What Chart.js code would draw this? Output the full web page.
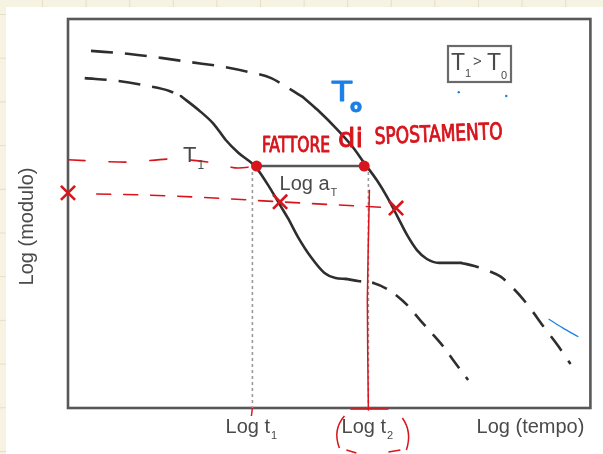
<!DOCTYPE html>
<html>
<head>
<meta charset="utf-8">
<script src="https://cdn.jsdelivr.net/npm/chart.js@4.4.1/dist/chart.umd.min.js"></script>
<style>
  html, body { margin: 0; padding: 0; background: #fff; }
  canvas { display: block; }
</style>
</head>
<body>
<canvas id="chart" width="603" height="454"></canvas>
<script>
// Marked times on the log-time axis and their subscripts
const timeTicks = [3.53, 5.75];
const timeTickSubs = ['1', '2'];
const xAxisTitle = 'Log (tempo)';
const yAxisTitle = 'Log (modulo)';

// Modulus curve at T0: glassy plateau, transition, rubbery tail
const t0Glassy = [[0.44, 9.18], [1.18, 9.10], [1.78, 9.00], [2.35, 8.89], [2.98, 8.77], [3.45, 8.64], [3.89, 8.48], [4.21, 8.23], [4.50, 7.99]];
const t0Transition = [[4.50, 7.99], [4.78, 7.66], [5.16, 7.15], [5.45, 6.71], [5.67, 6.30], [5.92, 5.84], [6.11, 5.42], [6.30, 4.94], [6.49, 4.45], [6.68, 4.06], [6.87, 3.83], [7.10, 3.73], [7.53, 3.73]];
const t0Rubbery = [[7.53, 3.73], [7.78, 3.65], [8.06, 3.52], [8.29, 3.37], [8.52, 3.08], [8.71, 2.80], [8.90, 2.47], [9.11, 2.08], [9.37, 1.62], [9.62, 1.13]];

// Modulus curve at T1 (shifted to shorter times)
const t1Glassy = [[0.32, 8.48], [0.95, 8.41], [1.52, 8.28], [1.94, 8.15], [2.16, 8.02]];
const t1Transition = [[2.16, 8.02], [2.50, 7.66], [2.79, 7.30], [3.02, 6.89], [3.26, 6.56], [3.59, 6.20], [3.89, 5.60], [4.08, 5.17], [4.21, 4.88], [4.40, 4.40], [4.65, 3.88], [4.91, 3.47], [5.12, 3.34], [5.31, 3.32]];
const t1Rubbery = [[5.31, 3.32], [5.58, 3.26], [5.86, 3.21], [6.11, 3.06], [6.30, 2.88], [6.49, 2.65], [6.74, 2.26], [6.96, 1.93], [7.19, 1.57], [7.40, 1.18], [7.66, 0.72]];

// Shift factor: equal-modulus points on both curves
const shiftDots = [[3.61, 6.22], [5.67, 6.22]];
const levelUpper = [[0.00, 6.38], [1.18, 6.32], [1.94, 6.40], [2.79, 6.30], [3.26, 6.17], [3.61, 6.22]];
const levelLower = [[0.55, 5.50], [1.37, 5.48], [2.50, 5.42], [4.06, 5.30], [5.16, 5.22], [6.28, 5.14]];
const crossMarks = [[0.00, 5.53], [4.06, 5.30], [6.28, 5.14]];
const t2Marker = [[5.77, 5.60], [5.73, 2.78], [5.75, -0.05]];
const blueStroke = [[9.20, 2.29], [9.47, 2.06], [9.77, 1.83]];
const blueDots = [[7.48, 8.12], [8.39, 8.02]];

const INK = '#2e2e2e';
const RED = '#d8141c';
const BLUE = '#1b7fe6';
const GRAY_TEXT = '#4a4a4a';

const pts = arr => arr.map(([x, y]) => ({ x, y }));

function curve(arr, extra) {
  return Object.assign({
    data: pts(arr),
    showLine: true,
    pointRadius: 0,
    borderColor: INK,
    borderWidth: 2.6,
    cubicInterpolationMode: 'monotone',
    fill: false,
    borderCapStyle: 'round'
  }, extra);
}

const datasets = [
  // red hand annotations
  curve(crossMarks, { showLine: false, pointRadius: 10, pointStyle: 'crossRot', pointBorderColor: RED, pointBorderWidth: 2.6, clip: false }),
  curve(shiftDots, { showLine: false, pointRadius: 5.5, pointBackgroundColor: RED, pointBorderColor: RED, pointBorderWidth: 0 }),
  curve(levelUpper, { borderColor: RED, borderWidth: 1.6, borderDash: [17, 24], clip: false }),
  curve(levelLower, { borderColor: RED, borderWidth: 1.6, borderDash: [14, 13], clip: false }),
  curve(t2Marker, { borderColor: RED, borderWidth: 1.5, cubicInterpolationMode: 'default', tension: 0.2, clip: false }),
  // blue hand annotations
  curve(blueStroke, { borderColor: BLUE, borderWidth: 1.2, borderCapStyle: 'butt' }),
  curve(blueDots, { showLine: false, pointRadius: 1.2, pointBackgroundColor: BLUE, pointBorderWidth: 0 }),
  // shift segment and guide lines to the time axis
  curve(shiftDots, { borderColor: '#555', borderWidth: 2.4, cubicInterpolationMode: 'default', tension: 0 }),
  ...timeTicks.map((t, i) => curve([[t, shiftDots[i][1]], [t, 0]], {
    borderColor: '#9a9a9a', borderWidth: 1.6, borderDash: [3, 3], cubicInterpolationMode: 'default', tension: 0, borderCapStyle: 'butt'
  })),
  // modulus curves
  curve(t0Glassy, { borderDash: [22, 12], borderCapStyle: 'butt' }),
  curve(t0Transition, {}),
  curve(t0Rubbery, { borderDash: [18, 12], borderCapStyle: 'butt' }),
  curve(t1Glassy, { borderDash: [22, 12], borderCapStyle: 'butt' }),
  curve(t1Transition, {}),
  curve(t1Rubbery, { borderDash: [16, 11], borderCapStyle: 'butt' })
];

// Notebook paper behind the figure
const paperPlugin = {
  id: 'paper',
  beforeDraw(chart) {
    const { ctx, width, height } = chart;
    ctx.save();
    ctx.fillStyle = '#f6f3e3';
    ctx.fillRect(0, 0, width, height);
    ctx.strokeStyle = '#e3dfc8';
    ctx.lineWidth = 1;
    for (let x = 42.5; x < width; x += 43.6) {
      ctx.beginPath(); ctx.moveTo(x, 0); ctx.lineTo(x, height); ctx.stroke();
    }
    for (let y = 14.5; y < height; y += 43.7) {
      ctx.beginPath(); ctx.moveTo(0, y); ctx.lineTo(width, y); ctx.stroke();
    }
    ctx.fillStyle = '#ffffff';
    ctx.fillRect(6, 7, width - 6, height - 7);
    ctx.restore();
  },
  beforeDatasetsDraw(chart) {
    const { ctx, chartArea: a } = chart;
    ctx.save();
    ctx.strokeStyle = '#585858';
    ctx.lineWidth = 2.6;
    ctx.strokeRect(a.left, a.top, a.right - a.left, a.bottom - a.top);
    ctx.restore();
  }
};

function subText(ctx, main, sub, x, y, size, align, color) {
  ctx.font = size + 'px "Liberation Sans", Arial, sans-serif';
  const w1 = ctx.measureText(main).width;
  ctx.font = Math.round(size * 0.55) + 'px "Liberation Sans", Arial, sans-serif';
  const w2 = ctx.measureText(sub).width;
  const total = w1 + 1 + w2;
  let x0 = x;
  if (align === 'center') x0 = x - total / 2;
  if (align === 'right') x0 = x - total;
  ctx.fillStyle = color;
  ctx.textAlign = 'left';
  ctx.textBaseline = 'alphabetic';
  ctx.font = size + 'px "Liberation Sans", Arial, sans-serif';
  ctx.fillText(main, x0, y);
  ctx.font = Math.round(size * 0.55) + 'px "Liberation Sans", Arial, sans-serif';
  ctx.fillText(sub, x0 + w1 + 1, y + size * 0.3);
}

// Handwriting-like text: thin glyphs thickened with a light outline, squeezed to a width
function handText(ctx, text, x, y, width, font, color, angle) {
  ctx.save();
  ctx.font = font;
  const w = ctx.measureText(text).width;
  ctx.translate(x, y);
  if (angle) ctx.rotate(angle);
  ctx.scale(width / w, 1);
  ctx.fillStyle = color;
  ctx.strokeStyle = color;
  ctx.lineWidth = 0.9;
  ctx.lineJoin = 'round';
  ctx.textAlign = 'left';
  ctx.textBaseline = 'alphabetic';
  ctx.fillText(text, 0, 0);
  ctx.strokeText(text, 0, 0);
  ctx.restore();
}

// Axis titles, tick labels and annotations
const labelPlugin = {
  id: 'labels',
  afterDraw(chart) {
    const { ctx, chartArea: a } = chart;
    const xs = chart.scales.x, ys = chart.scales.y;
    ctx.save();

    // time tick labels
    timeTicks.forEach((t, i) => {
      subText(ctx, 'Log t', timeTickSubs[i], xs.getPixelForValue(t) - 1, a.bottom + 25, 20, 'center', GRAY_TEXT);
    });
    ctx.font = '20px "Liberation Sans", Arial, sans-serif';
    ctx.fillStyle = GRAY_TEXT;
    ctx.textAlign = 'right';
    ctx.fillText(xAxisTitle, a.right - 6, a.bottom + 25);

    // vertical axis title
    ctx.save();
    ctx.translate(a.left - 35, (a.top + a.bottom) / 2 + 13);
    ctx.rotate(-Math.PI / 2);
    ctx.textAlign = 'center';
    ctx.fillText(yAxisTitle, 0, 0);
    ctx.restore();

    // curve labels
    subText(ctx, 'T', '1', a.left + 115, a.top + 143, 22, 'left', GRAY_TEXT);
    const dx1 = xs.getPixelForValue(shiftDots[0][0]);
    const dx2 = xs.getPixelForValue(shiftDots[1][0]);
    const dy = ys.getPixelForValue(shiftDots[0][1]);
    subText(ctx, 'Log a', 'T', (dx1 + dx2) / 2 - 2, dy + 24, 20, 'center', GRAY_TEXT);

    // temperature relation box
    ctx.strokeStyle = '#6a6a6a';
    ctx.lineWidth = 2.2;
    ctx.strokeRect(448, 46, 63, 36);
    ctx.fillStyle = GRAY_TEXT;
    ctx.font = '23px "Liberation Sans", Arial, sans-serif';
    ctx.textAlign = 'left';
    ctx.fillText('T', 451, 70);
    ctx.font = '11px "Liberation Sans", Arial, sans-serif';
    ctx.fillText('1', 465, 77);
    ctx.font = '15px "Liberation Sans", Arial, sans-serif';
    ctx.fillText('>', 473, 66);
    ctx.font = '23px "Liberation Sans", Arial, sans-serif';
    ctx.fillText('T', 487, 70);
    ctx.font = '11px "Liberation Sans", Arial, sans-serif';
    ctx.fillText('0', 501, 79);

    // handwritten notes
    handText(ctx, 'T', 332, 101, 20, '26px "DejaVu Sans", sans-serif', BLUE, 0);
    handText(ctx, 'o', 350, 112, 12, 'bold 17px "DejaVu Sans", sans-serif', BLUE, 0);

    handText(ctx, 'FATTORE', 262, 152, 68, '21px "DejaVu Sans Condensed", "DejaVu Sans", sans-serif', RED, 0);
    handText(ctx, 'di', 338, 147, 25, '26px "DejaVu Sans", sans-serif', RED, 0);
    handText(ctx, 'SPOSTAMENTO', 375, 144, 128, '23px "DejaVu Sans Condensed", "DejaVu Sans", sans-serif', RED, -0.04);

    // brackets around the second time label
    const px2 = xs.getPixelForValue(timeTicks[1]);
    ctx.strokeStyle = RED;
    ctx.lineWidth = 1.5;
    ctx.beginPath();
    ctx.moveTo(px2 - 24, a.bottom + 8);
    ctx.quadraticCurveTo(px2 - 36, a.bottom + 22, px2 - 29, a.bottom + 40);
    ctx.stroke();
    ctx.beginPath();
    ctx.moveTo(px2 + 34, a.bottom + 10);
    ctx.quadraticCurveTo(px2 + 44, a.bottom + 24, px2 + 38, a.bottom + 42);
    ctx.stroke();
    ctx.beginPath();
    ctx.moveTo(px2 - 22, a.bottom + 42);
    ctx.lineTo(px2 - 12, a.bottom + 45);
    ctx.moveTo(px2 + 20, a.bottom + 44);
    ctx.lineTo(px2 + 32, a.bottom + 42);
    ctx.moveTo(px2 - 18, a.bottom + 1);
    ctx.lineTo(px2 + 20, a.bottom + 1);
    ctx.stroke();
    // tick under the first time label
    const px1 = xs.getPixelForValue(timeTicks[0]);
    ctx.beginPath();
    ctx.moveTo(px1, a.bottom);
    ctx.lineTo(px1 - 1, a.bottom + 8);
    ctx.stroke();

    ctx.restore();
  }
};

new Chart(document.getElementById('chart'), {
  type: 'scatter',
  data: { datasets },
  options: {
    responsive: false,
    animation: false,
    devicePixelRatio: 1,
    layout: { padding: { left: 68, top: 19, right: 8, bottom: 46 } },
    plugins: { legend: { display: false }, tooltip: { enabled: false } },
    scales: {
      x: { type: 'linear', min: 0, max: 10, display: false },
      y: { type: 'linear', min: 0, max: 10, display: false }
    }
  },
  plugins: [paperPlugin, labelPlugin]
});
</script>
</body>
</html>
